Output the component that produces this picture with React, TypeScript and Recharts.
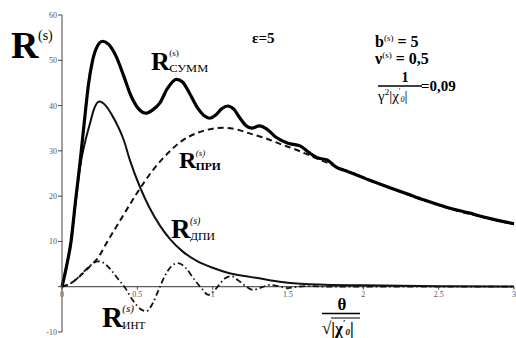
import React from 'react';
import { LineChart, Line, XAxis, YAxis, ReferenceLine } from 'recharts';

// ---- data ----
const TH_SUMM = [0, 0.03, 0.06, 0.09, 0.12, 0.15, 0.175, 0.2, 0.23, 0.27, 0.31, 0.36, 0.41, 0.46, 0.51, 0.557, 0.6, 0.65, 0.7, 0.76, 0.8, 0.85, 0.9, 0.95, 0.98, 1.02, 1.06, 1.1, 1.14, 1.18, 1.22, 1.26, 1.31, 1.36, 1.42, 1.5, 1.58, 1.64, 1.7, 1.76, 1.82, 1.9, 1.96, 2.05, 2.1, 2.2, 2.3, 2.4, 2.5, 2.6, 2.7, 2.8, 2.9, 3.0];
const R_SUMM = [0, 4.5, 10, 19, 27.5, 37, 44.5, 49.5, 52.8, 54.2, 53.5, 50.8, 46.5, 42, 39.2, 38.3, 39, 40.6, 43.8, 45.8, 45.2, 42.5, 39.5, 37.6, 37.2, 37.9, 39.3, 39.9, 39.2, 37.3, 35.6, 35.0, 35.5, 34.8, 33, 31.7, 31.1, 29.6, 28.4, 28.0, 26.4, 25.4, 24.6, 23.4, 22.8, 21.6, 20.4, 19.2, 18.1, 17.1, 16.3, 15.4, 14.6, 13.9];

const TH_DPI = [0, 0.03, 0.06, 0.09, 0.12, 0.15, 0.186, 0.21, 0.248, 0.29, 0.33, 0.37, 0.41, 0.45, 0.52, 0.58, 0.65, 0.72, 0.8, 0.9, 1.0, 1.1, 1.2, 1.3, 1.4, 1.5, 1.7, 2.0, 2.5, 3.0];
const R_DPI = [0, 4.5, 10, 18.5, 26.5, 31.5, 36.1, 39, 40.9, 40, 38, 35.5, 32.4, 28, 21.8, 17.5, 13.5, 10.4, 7.8, 5.6, 4.2, 3.1, 2.4, 1.9, 1.3, 0.9, 0.5, 0.3, 0.1, 0.05];

const TH_PRI = [0, 0.05, 0.1, 0.15, 0.2, 0.23, 0.3, 0.4, 0.5, 0.6, 0.7, 0.8, 0.9, 1.0, 1.07, 1.15, 1.25, 1.35, 1.45, 1.55, 1.65, 1.75, 1.85, 2.0, 2.2, 2.4, 2.6, 2.8, 3.0];
const R_PRI = [0, 0.6, 1.8, 3.3, 5, 6, 9.9, 15.4, 20.8, 25.6, 29.4, 32.3, 34, 34.9, 35.1, 34.8, 33.8, 32.8, 31.5, 30.3, 28.9, 27.5, 26.1, 24.2, 21.5, 19.1, 17.0, 15.3, 13.8];

const TH_INT = [0, 0.05, 0.1, 0.15, 0.2, 0.24, 0.28, 0.32, 0.37, 0.42, 0.47, 0.52, 0.56, 0.6, 0.64, 0.68, 0.72, 0.77, 0.82, 0.88, 0.93, 0.97, 1.0, 1.04, 1.08, 1.125, 1.17, 1.22, 1.27, 1.32, 1.38, 1.44, 1.5, 1.56, 1.65, 1.75, 1.9, 2.2, 2.6, 3.0];
const R_INT = [0, 0.6, 1.8, 3.5, 5, 5.6, 5.2, 3.9, 1.8, -0.3, -3, -4.9, -5.4, -3.8, -0.8, 2.2, 4.3, 5.2, 4.2, 1.5, -0.5, -1.8, -1.2, 0.3, 1.8, 2.3, 1.4, 0.1, -0.7, -0.2, 0.4, 0.1, -0.3, 0, 0.15, 0, 0.05, 0, 0, 0];

const X_TICKS = [0, 0.5, 1, 1.5, 2, 2.5, 3];
const Y_TICKS = [-10, 0, 10, 20, 30, 40, 50, 60];
const Y_MIN = -10;
const Y_MAX = 60;

const toPts = (xs: number[], ys: number[]) => xs.map((x, i) => ({ x, y: ys[i] }));
const summData = toPts(TH_SUMM, R_SUMM);
const dpiData = toPts(TH_DPI, R_DPI);
const priData = toPts(TH_PRI, R_PRI);
const intData = toPts(TH_INT, R_INT);

// ---- layout ----
const W = 516;
const H = 338;
const M = { top: 15, right: 2, bottom: 5, left: 0 };
const X_AXIS_H = 1;
const PLOT_H = H - M.top - M.bottom - X_AXIS_H;
const ZERO_OFFSET = (PLOT_H * (0 - Y_MIN)) / (Y_MAX - Y_MIN);

const SERIF = "'Liberation Serif', 'DejaVu Serif', 'Times New Roman', serif";
const F = { fontFamily: SERIF };

const XTick = (props: any) => {
  const { x, y, payload } = props;
  const zy = y - ZERO_OFFSET;
  return (
    <g>
      <line x1={x} x2={x} y1={zy} y2={zy + 3} stroke="#444" strokeWidth={1} />
      <text x={x} y={zy + 10} textAnchor="middle" fontSize={8} fill="#555" style={F}>
        {payload.value}
      </text>
    </g>
  );
};

const YTick = (props: any) => {
  const { x, y, payload } = props;
  if (payload.value === 0) return <g />;
  return (
    <text x={x} y={y + 3} textAnchor="end" fontSize={8} fill="#555" style={F}>
      {payload.value}
    </text>
  );
};

const Sub = ({ x, y, rSize, main, sup, sub, subSize, supSize, subLen, supItalic, subBold }: any) => (
  <g style={F}>
    <text x={x} y={y} fontSize={rSize} fontWeight="bold" style={F}>{main}</text>
    <text x={x + rSize * 0.7} y={y - rSize * 0.52} fontSize={supSize} fontStyle={supItalic ? 'italic' : 'normal'} style={F}>{sup}</text>
    <text x={x + rSize * 0.7} y={y + 2} fontSize={subSize} fontWeight={subBold ? 'bold' : 'normal'} style={F} textLength={subLen} lengthAdjust="spacingAndGlyphs">{sub}</text>
  </g>
);

export default function App() {
  return (
    <div style={{ position: 'absolute', left: 0, top: 0, width: W, height: H, background: '#fff', fontFamily: SERIF }}>
      <LineChart width={W} height={H} margin={M} style={F}>
        <XAxis
          dataKey="x"
          type="number"
          domain={[0, 3]}
          ticks={X_TICKS}
          axisLine={false}
          tickLine={false}
          tickSize={0}
          tickMargin={0}
          height={X_AXIS_H}
          tick={<XTick />}
          interval={0}
        />
        <YAxis
          type="number"
          domain={[Y_MIN, Y_MAX]}
          ticks={Y_TICKS}
          width={62}
          tickSize={4}
          tickMargin={1}
          interval={0}
          stroke="#444"
          tick={<YTick />}
        />
        <ReferenceLine y={0} stroke="#333" strokeWidth={1} />
        <Line data={priData} dataKey="y" type="monotone" stroke="#111" strokeWidth={2} strokeDasharray="6 4" dot={false} isAnimationActive={false} />
        <Line data={intData} dataKey="y" type="monotone" stroke="#111" strokeWidth={1.8} strokeDasharray="6 3 1.5 3" dot={false} isAnimationActive={false} />
        <Line data={dpiData} dataKey="y" type="monotone" stroke="#111" strokeWidth={2} dot={false} isAnimationActive={false} />
        <Line data={summData} dataKey="y" type="monotone" stroke="#000" strokeWidth={3.2} strokeLinejoin="round" dot={false} isAnimationActive={false} />
      </LineChart>
      <svg width={W} height={H} style={{ position: 'absolute', left: 0, top: 0, pointerEvents: 'none', fontFamily: SERIF }}>
        {/* axis title R^(s) */}
        <text x={11} y={58} fontSize={38} fontWeight="bold" style={F}>R</text>
        <text x={38} y={40} fontSize={14} style={F}>(s)</text>

        <text x={252} y={43} fontSize={15} fontWeight="bold" style={F}>ε=5</text>

        <Sub x={151} y={70} rSize={26} main="R" sup="(s)" supSize={9} sub="СУММ" subSize={11} subLen={39} />
        <Sub x={179} y={168} rSize={24} main="R" sup="(s)" supSize={9} supItalic sub="ПРИ" subSize={10} subLen={25} subBold />
        <Sub x={171} y={238} rSize={27} main="R" sup="(s)" supSize={10} supItalic sub="ДПИ" subSize={11} subLen={25} />
        <Sub x={102} y={327} rSize={29} main="R" sup="(s)" supSize={11} supItalic sub="ИНТ" subSize={11} subLen={23} />

        {/* x-axis title fraction */}
        <text x={342} y={310} fontSize={17} fontWeight="bold" textAnchor="middle" style={F}>θ</text>
        <line x1={322} x2={360} y1={313.5} y2={313.5} stroke="#000" strokeWidth={1.5} />
        <line x1={331} x2={360} y1={318} y2={318} stroke="#000" strokeWidth={1} />
        <text x={322} y={334} fontSize={17} fontWeight="bold" style={F}>
          √|χ<tspan fontSize={9} dy={-8}>′</tspan><tspan fontSize={9} dy={9} fontStyle="italic">0</tspan><tspan fontSize={17} dy={-1}>|</tspan>
        </text>

        {/* parameters */}
        <text x={375} y={47} fontSize={16} fontWeight="bold" style={F}>
          b<tspan fontSize={9} dy={-6} fontWeight="normal">(s)</tspan><tspan dy={6}> = 5</tspan>
        </text>
        <text x={375} y={64} fontSize={16} fontWeight="bold" style={F}>
          ν<tspan fontSize={9} dy={-6} fontWeight="normal">(s)</tspan><tspan dy={6}> = 0,5</tspan>
        </text>
        <text x={405} y={82} fontSize={14} fontWeight="bold" textAnchor="middle" style={F}>1</text>
        <line x1={378} x2={422} y1={86} y2={86} stroke="#000" strokeWidth={1.3} />
        <text x={378} y={101} fontSize={15} style={F}>
          γ<tspan fontSize={9} dy={-6}>2</tspan><tspan dy={6}>|χ</tspan><tspan fontSize={8} dy={-7}>′</tspan><tspan fontSize={8} dy={8} fontStyle="italic">0</tspan><tspan dy={-1}>|</tspan>
        </text>
        <text x={421} y={91} fontSize={15} fontWeight="bold" style={F}>=0,09</text>
      </svg>
    </div>
  );
}
